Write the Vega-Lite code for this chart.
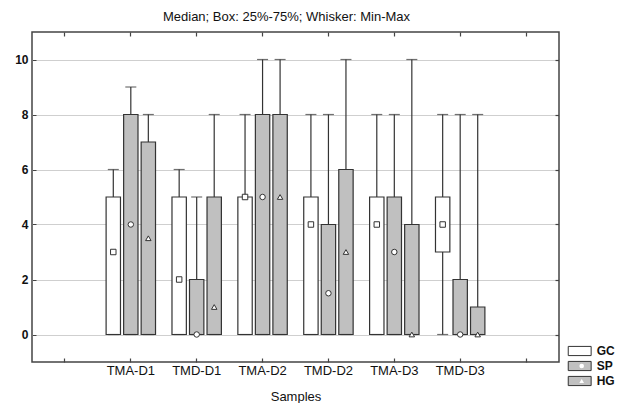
{
  "$schema": "https://vega.github.io/schema/vega-lite/v6.json",
  "width": 527,
  "height": 330,
  "autosize": "none",
  "padding": {"left": 32, "top": 32, "right": 58, "bottom": 41},
  "background": "white",
  "title": {"text": "Median; Box: 25%-75%; Whisker: Min-Max", "fontSize": 13, "fontWeight": "normal", "font": "Liberation Sans", "color": "#111", "anchor": "middle", "offset": 7, "dx": -9},
  "config": {
    "font": "Liberation Sans",
    "view": {"stroke": "#444", "strokeWidth": 1.5}
  },
  "data": {"values": [
    {"sample": "TMA-D1", "group": "GC", "min": 0, "q1": 0, "median": 3, "q3": 5, "max": 6},
    {"sample": "TMA-D1", "group": "SP", "min": 0, "q1": 0, "median": 4, "q3": 8, "max": 9},
    {"sample": "TMA-D1", "group": "HG", "min": 0, "q1": 0, "median": 3.5, "q3": 7, "max": 8},
    {"sample": "TMD-D1", "group": "GC", "min": 0, "q1": 0, "median": 2, "q3": 5, "max": 6},
    {"sample": "TMD-D1", "group": "SP", "min": 0, "q1": 0, "median": 0, "q3": 2, "max": 5},
    {"sample": "TMD-D1", "group": "HG", "min": 0, "q1": 0, "median": 1, "q3": 5, "max": 8},
    {"sample": "TMA-D2", "group": "GC", "min": 0, "q1": 0, "median": 5, "q3": 5, "max": 8},
    {"sample": "TMA-D2", "group": "SP", "min": 0, "q1": 0, "median": 5, "q3": 8, "max": 10},
    {"sample": "TMA-D2", "group": "HG", "min": 0, "q1": 0, "median": 5, "q3": 8, "max": 10},
    {"sample": "TMD-D2", "group": "GC", "min": 0, "q1": 0, "median": 4, "q3": 5, "max": 8},
    {"sample": "TMD-D2", "group": "SP", "min": 0, "q1": 0, "median": 1.5, "q3": 4, "max": 8},
    {"sample": "TMD-D2", "group": "HG", "min": 0, "q1": 0, "median": 3, "q3": 6, "max": 10},
    {"sample": "TMA-D3", "group": "GC", "min": 0, "q1": 0, "median": 4, "q3": 5, "max": 8},
    {"sample": "TMA-D3", "group": "SP", "min": 0, "q1": 0, "median": 3, "q3": 5, "max": 8},
    {"sample": "TMA-D3", "group": "HG", "min": 0, "q1": 0, "median": 0, "q3": 4, "max": 10},
    {"sample": "TMD-D3", "group": "GC", "min": 0, "q1": 3, "median": 4, "q3": 5, "max": 8},
    {"sample": "TMD-D3", "group": "SP", "min": 0, "q1": 0, "median": 0, "q3": 2, "max": 8},
    {"sample": "TMD-D3", "group": "HG", "min": 0, "q1": 0, "median": 0, "q3": 1, "max": 8}
  ]},
  "resolve": {"axis": {"x": "independent", "y": "independent"}},
  "layer": [
    {
      "mark": {"type": "rule", "color": "#333", "strokeWidth": 1.2},
      "encoding": {
        "x": {"field": "sample", "type": "nominal",
          "scale": {"domain": ["L", "TMA-D1", "TMD-D1", "TMA-D2", "TMD-D2", "TMA-D3", "TMD-D3", "R"], "paddingInner": 0, "paddingOuter": 0},
          "axis": {"orient": "bottom", "title": "Samples", "titleFontSize": 13, "titleFontWeight": "normal", "titleColor": "#111", "titlePadding": 13,
            "labelExpr": "datum.value == 'L' || datum.value == 'R' ? '' : datum.value",
            "labelAngle": 0, "labelFontSize": 13, "labelColor": "#111", "labelPadding": 6,
            "domain": false, "ticks": true, "tickSize": -4, "tickColor": "#444", "tickWidth": 1.2, "grid": false}},
        "xOffset": {"field": "group", "type": "nominal", "scale": {"domain": ["GC", "SP", "HG"], "paddingInner": 0.18, "paddingOuter": 0.47}},
        "y": {"field": "min", "type": "quantitative",
          "scale": {"domain": [-1, 11], "nice": false, "zero": false},
          "axis": {"orient": "left", "title": null, "values": [0, 2, 4, 6, 8, 10], "labelFontSize": 12, "labelFontWeight": "bold", "labelColor": "#111", "labelPadding": 8,
            "domain": false, "ticks": true, "tickSize": -4, "tickColor": "#444", "grid": true, "gridColor": "#cfcfcf", "gridWidth": 1}},
        "y2": {"field": "max"}
      }
    },
    {
      "mark": {"type": "bar", "stroke": "#333", "strokeWidth": 1.2},
      "encoding": {
        "x": {"field": "sample", "type": "nominal",
          "axis": {"orient": "top", "title": null, "labels": false, "domain": false, "ticks": true, "tickSize": -4, "tickColor": "#444", "tickWidth": 1.2, "grid": false}},
        "xOffset": {"field": "group", "type": "nominal"},
        "y": {"field": "q1", "type": "quantitative",
          "axis": {"orient": "right", "title": null, "labels": false, "values": [0, 2, 4, 6, 8, 10], "domain": false, "ticks": true, "tickSize": -4, "tickColor": "#444", "tickWidth": 1.2, "grid": false}},
        "y2": {"field": "q3"},
        "fill": {"field": "group", "type": "nominal",
          "scale": {"domain": ["GC", "SP", "HG"], "range": ["#ffffff", "#c0c0c0", "#c0c0c0"]},
          "legend": {"orient": "none", "legendX": 534.7, "legendY": 313, "title": null, "padding": 0,
            "symbolType": "M-2.5,-1H2.5V1H-2.5Z", "symbolSize": 84, "symbolStrokeColor": "#333", "symbolStrokeWidth": 1,
            "symbolOffset": 7, "labelOffset": 11, "clipHeight": 12, "rowPadding": 3,
            "labelFontSize": 12, "labelFontWeight": "bold", "labelColor": "#111"}}
      }
    },
    {
      "mark": {"type": "tick", "color": "#333", "size": 11, "thickness": 1.2},
      "encoding": {
        "x": {"field": "sample", "type": "nominal", "axis": null},
        "xOffset": {"field": "group", "type": "nominal"},
        "y": {"field": "max", "type": "quantitative", "axis": null}
      }
    },
    {
      "mark": {"type": "tick", "color": "#333", "size": 11, "thickness": 1.2},
      "encoding": {
        "x": {"field": "sample", "type": "nominal", "axis": null},
        "xOffset": {"field": "group", "type": "nominal"},
        "y": {"field": "min", "type": "quantitative", "axis": null}
      }
    },
    {
      "mark": {"type": "point", "filled": false, "fill": "white", "stroke": "#333", "strokeWidth": 1, "size": 30, "opacity": 1},
      "encoding": {
        "x": {"field": "sample", "type": "nominal", "axis": null},
        "xOffset": {"field": "group", "type": "nominal"},
        "y": {"field": "median", "type": "quantitative", "axis": null},
        "shape": {"field": "group", "type": "nominal", "sort": ["GC", "SP", "HG"],
          "scale": {"range": ["square", "circle", "triangle-up"]},
          "legend": {"orient": "none", "legendX": 534.7, "legendY": 313, "title": null, "padding": 0,
            "symbolSize": 22, "symbolFillColor": "white", "symbolStrokeColor": "#333", "symbolStrokeWidth": 1,
            "symbolOffset": 9, "labelOffset": 4, "clipHeight": 12, "rowPadding": 3,
            "labelExpr": "''", "labelFontSize": 12}}
      }
    }
  ]
}
